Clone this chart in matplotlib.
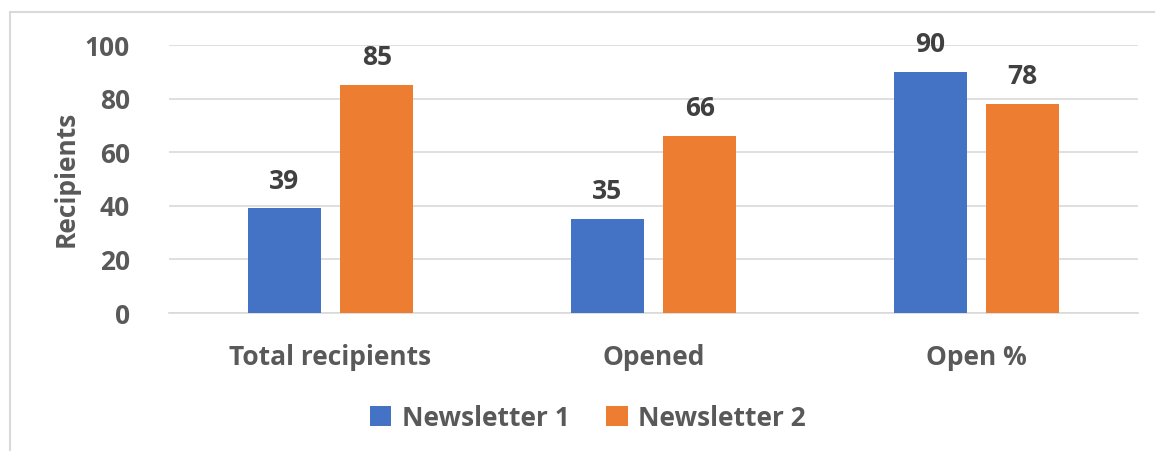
import numpy as np
import matplotlib.pyplot as plt
from matplotlib.patches import Rectangle

# data
categories = ["Total recipients", "Opened", "Open %"]
newsletter_1 = [39, 35, 90]
newsletter_2 = [85, 66, 78]
series_names = ["Newsletter 1", "Newsletter 2"]
y_ticks = [0, 20, 40, 60, 80, 100]

BLUE = "#4472C4"
ORANGE = "#ED7D31"
TICK_COLOR = "#595959"
LABEL_COLOR = "#404040"
FS = 19

plt.rcParams['font.family'] = ['Open Sans', 'DejaVu Sans']
plt.rcParams['font.weight'] = 'bold'

W, H = 1155, 451
fig = plt.figure(figsize=(W / 100, H / 100), dpi=100)

# plot area in pixels: x 169..1138, y 45..313
ax = fig.add_axes([169 / W, 1 - 313 / H, (1138 - 169) / W, (313 - 45) / H])

x = np.arange(len(categories))
width = 0.226
offset = 0.143
b1 = ax.bar(x - offset, newsletter_1, width, color=BLUE, label=series_names[0], zorder=3)
b2 = ax.bar(x + offset, newsletter_2, width, color=ORANGE, label=series_names[1], zorder=3)

for bars in (b1, b2):
    ax.bar_label(bars, padding=10, fontsize=FS, fontweight='bold', color=LABEL_COLOR)

ax.set_xlim(-0.5, 2.5)
ax.set_ylim(0, 100)
ax.set_yticks(y_ticks)
ax.set_xticks(x)
ax.set_xticklabels(categories)
ax.tick_params(axis='both', length=0, labelsize=FS, labelcolor=TICK_COLOR)
ax.tick_params(axis='y', pad=28)
ax.tick_params(axis='x', pad=22)
for lbl in ax.get_xticklabels() + ax.get_yticklabels():
    lbl.set_fontweight('bold')

ax.grid(axis='y', color='#D9D9D9', linewidth=1.2, zorder=0)
for side in ['top', 'right', 'left']:
    ax.spines[side].set_visible(False)
ax.spines['bottom'].set_color('#D9D9D9')
ax.spines['bottom'].set_linewidth(1.2)

ax.set_ylabel("Recipients", fontsize=FS, fontweight='bold', color=TICK_COLOR, labelpad=4)

leg = fig.legend(handles=[b1, b2], loc='center', bbox_to_anchor=(588 / W, 1 - 418 / H),
                 ncol=2, frameon=False, fontsize=FS, handlelength=0.8, handleheight=0.8,
                 handletextpad=0.4, columnspacing=1.4)
for t in leg.get_texts():
    t.set_color(TICK_COLOR)
    t.set_fontweight('bold')

# chart border
fig.patches.append(Rectangle((10 / W, -0.1), 1.2, 1 - 12 / H + 0.1, transform=fig.transFigure,
                             fill=False, edgecolor='#D9D9D9', linewidth=1.5))

fig.savefig("out.png", dpi=100)
